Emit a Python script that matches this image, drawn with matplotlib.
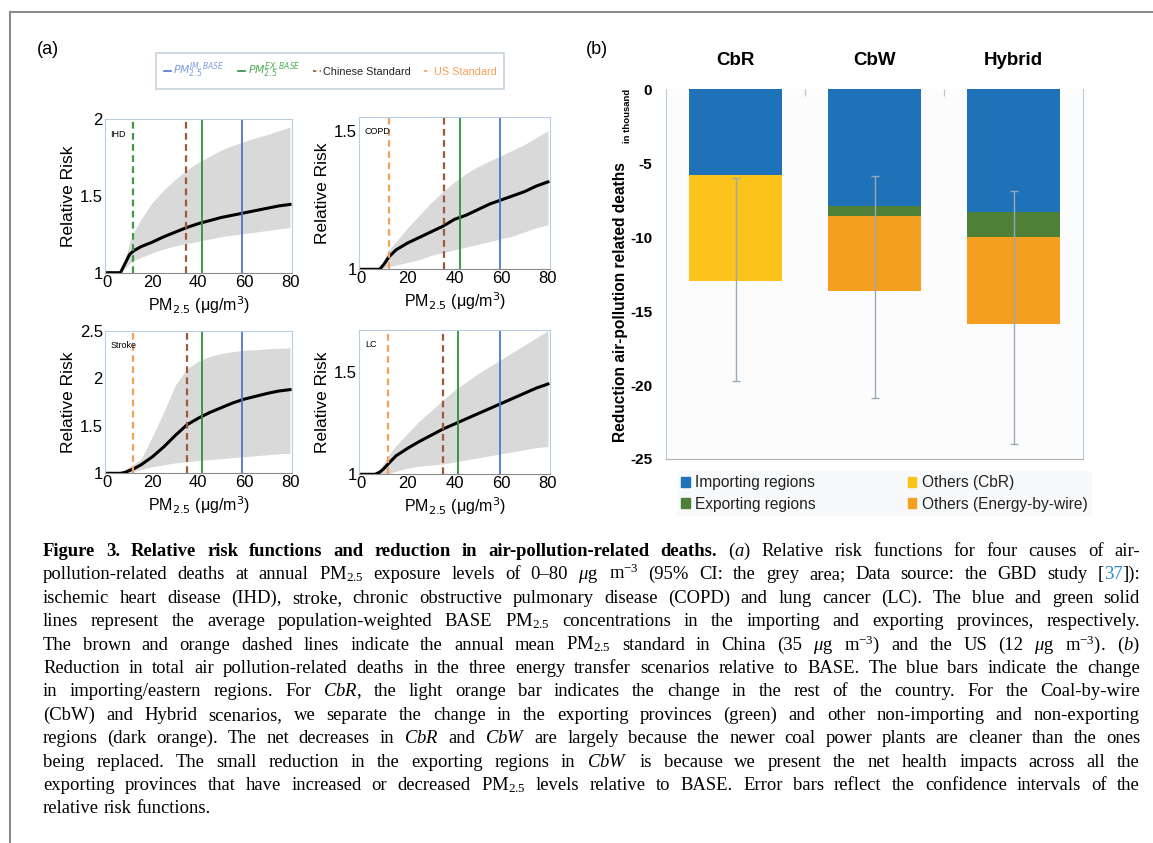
import matplotlib

matplotlib.use("Agg")
import matplotlib.pyplot as plt  # noqa: E402
from matplotlib.font_manager import FontProperties  # noqa: E402
from matplotlib.lines import Line2D  # noqa: E402
from matplotlib.patches import Patch  # noqa: E402

plt.rcParams["font.family"] = "Liberation Sans"
plt.rcParams["axes.unicode_minus"] = False
plt.rcParams["mathtext.fontset"] = "custom"
plt.rcParams["mathtext.rm"] = "Liberation Serif"
plt.rcParams["mathtext.it"] = "Liberation Serif:italic"
plt.rcParams["mathtext.bf"] = "Liberation Serif:bold"

# ---- panel (a): relative risk curves -------------------------------------
pm = [0, 6, 8, 10, 12, 15, 20, 25, 30, 35, 40, 45, 50, 55, 60, 65, 70, 75, 80]

ihd_mid = [1, 1, 1.06, 1.12, 1.145, 1.17, 1.20, 1.235, 1.265, 1.295, 1.32,
           1.34, 1.36, 1.375, 1.39, 1.405, 1.42, 1.435, 1.445]
ihd_up = [1, 1, 1.08, 1.20, 1.27, 1.35, 1.46, 1.54, 1.61, 1.67, 1.72,
          1.76, 1.80, 1.83, 1.855, 1.88, 1.90, 1.925, 1.95]
ihd_lo = [1, 1, 1.03, 1.06, 1.08, 1.10, 1.13, 1.155, 1.175, 1.19, 1.205,
          1.22, 1.235, 1.245, 1.255, 1.265, 1.275, 1.285, 1.295]

copd_mid = [1, 1, 1.0, 1.02, 1.045, 1.07, 1.095, 1.115, 1.135, 1.155, 1.18,
            1.195, 1.215, 1.235, 1.25, 1.265, 1.28, 1.30, 1.315]
copd_up = [1, 1, 1.0, 1.04, 1.07, 1.10, 1.15, 1.195, 1.24, 1.28, 1.315,
           1.345, 1.37, 1.39, 1.41, 1.43, 1.45, 1.475, 1.50]
copd_lo = [1, 1, 1.0, 1.005, 1.01, 1.015, 1.025, 1.035, 1.05, 1.06, 1.07,
           1.08, 1.09, 1.10, 1.11, 1.12, 1.135, 1.15, 1.16]

stroke_mid = [1, 1, 1.01, 1.03, 1.05, 1.09, 1.175, 1.28, 1.40, 1.51, 1.58,
              1.64, 1.69, 1.74, 1.78, 1.81, 1.84, 1.865, 1.88]
stroke_up = [1, 1, 1.04, 1.07, 1.10, 1.15, 1.39, 1.65, 1.93, 2.10, 2.18,
             2.23, 2.26, 2.28, 2.295, 2.30, 2.31, 2.315, 2.32]
stroke_lo = [1, 1, 1.0, 1.01, 1.02, 1.04, 1.07, 1.09, 1.11, 1.12, 1.135,
             1.145, 1.155, 1.165, 1.175, 1.185, 1.195, 1.205, 1.21]

lc_mid = [1, 1, 1.01, 1.03, 1.055, 1.09, 1.127, 1.16, 1.19, 1.22, 1.245,
          1.27, 1.295, 1.32, 1.345, 1.37, 1.395, 1.42, 1.44]
lc_up = [1, 1, 1.02, 1.06, 1.095, 1.14, 1.20, 1.26, 1.31, 1.36, 1.41,
         1.45, 1.49, 1.525, 1.56, 1.595, 1.63, 1.665, 1.70]
lc_lo = [1, 1, 1.0, 1.0, 1.005, 1.015, 1.03, 1.04, 1.045, 1.05, 1.06,
         1.07, 1.08, 1.09, 1.10, 1.11, 1.12, 1.13, 1.135]

diseases = ["IHD", "COPD", "Stroke", "LC"]
mids = [ihd_mid, copd_mid, stroke_mid, lc_mid]
ups = [ihd_up, copd_up, stroke_up, lc_up]
los = [ihd_lo, copd_lo, stroke_lo, lc_lo]
ylims = [(1, 2), (1, 1.55), (1, 2.5), (1, 1.703)]
yticks = [[1, 1.5, 2], [1, 1.5], [1, 1.5, 2, 2.5], [1, 1.5]]
ytick_labels = [["1", "1.5", "2"], ["1", "1.5"], ["1", "1.5", "2", "2.5"], ["1", "1.5"]]

us_std = [11.3, 12.1, 11.3, 11.4]
cn_std = [34.6, 35.4, 34.9, 35.3]
ex_base = [41.5, 42.4, 41.5, 41.7]
im_base = [58.9, 59.6, 58.9, 59.6]

# ---- panel (b): reduction in deaths (thousand) ---------------------------
scenarios = ["CbR", "CbW", "Hybrid"]
importing = [-5.8, -7.9, -8.3]
exporting = [0.0, -0.65, -1.7]
others_cbr = [-7.15, 0.0, 0.0]
others_ebw = [0.0, -5.1, -5.9]
ci_low = [-19.7, -20.85, -24.0]
ci_high = [-6.0, -5.85, -6.9]

caption_lines = [
    "Figure 3. Relative risk functions and reduction in air-pollution-related deaths. "
    "($\\mathit{a}$) Relative risk functions for four causes of air-",
    "pollution-related deaths at annual PM$_{2.5}$ exposure levels of 0–80 $\\mu$g m$^{-3}$ "
    "(95% CI: the grey area; Data source: the GBD study [|37|]):",
    "ischemic heart disease (IHD), stroke, chronic obstructive pulmonary disease (COPD) "
    "and lung cancer (LC). The blue and green solid",
    "lines represent the average population-weighted BASE PM$_{2.5}$ concentrations in the "
    "importing and exporting provinces, respectively.",
    "The brown and orange dashed lines indicate the annual mean PM$_{2.5}$ standard in China "
    "(35 $\\mu$g m$^{-3}$) and the US (12 $\\mu$g m$^{-3}$). ($\\mathit{b}$)",
    "Reduction in total air pollution-related deaths in the three energy transfer scenarios "
    "relative to BASE. The blue bars indicate the change",
    "in importing/eastern regions. For $\\mathit{CbR},$ the light orange bar indicates the "
    "change in the rest of the country. For the Coal-by-wire",
    "(CbW) and Hybrid scenarios, we separate the change in the exporting provinces (green) "
    "and other non-importing and non-exporting",
    "regions (dark orange). The net decreases in $\\mathit{CbR}$ and $\\mathit{CbW}$ are largely "
    "because the newer coal power plants are cleaner than the ones",
    "being replaced. The small reduction in the exporting regions in $\\mathit{CbW}$ is because "
    "we present the net health impacts across all the",
    "exporting provinces that have increased or decreased PM$_{2.5}$ levels relative to BASE. "
    "Error bars reflect the confidence intervals of the",
    "relative risk functions.",
]

W, H = 1153, 843
fig = plt.figure(figsize=(W / 100, H / 100), dpi=100)


def fx(px):
    return px / W


def fy(py):
    return 1 - py / H


# frame around the figure
fig.add_artist(Line2D([fx(10), 1], [fy(12), fy(12)], color="#8c8c8c", lw=1.5))
fig.add_artist(Line2D([fx(10), fx(10)], [fy(12), 0], color="#8c8c8c", lw=1.5))

# axes boxes in pixels: (left, top, right, bottom)
boxes = [(104.9, 119.3, 292.3, 272.7), (359.1, 116.7, 550.3, 269.3),
         (104.9, 330.7, 292.3, 473.3), (359.1, 330.0, 550.3, 474.3)]

C_BLUE = "#4d74cc"
C_GREEN = "#2f8f3e"
C_BROWN = "#a0583a"
C_ORANGE = "#f0a35a"
EDGE = "#b9cde0"

for i, name in enumerate(diseases):
    l, t, r, b = boxes[i]
    ax = fig.add_axes([fx(l), fy(b), fx(r - l), (b - t) / H])
    ax.fill_between(pm, los[i], ups[i], color="#d9d9d9", lw=0)
    ax.plot(pm, mids[i], color="black", lw=2.2)
    us_col = "#3f9a45" if i == 0 else C_ORANGE
    ax.axvline(us_std[i], color=us_col, lw=1.6, ls=(0, (3, 2)))
    ax.axvline(cn_std[i], color=C_BROWN, lw=1.6, ls=(0, (3, 2)))
    ax.axvline(ex_base[i], color=C_GREEN, lw=1.3)
    ax.axvline(im_base[i], color=C_BLUE, lw=1.3)
    ax.set_xlim(-0.8, 81)
    ax.set_ylim(*ylims[i])
    ax.set_xticks([0, 20, 40, 60, 80])
    ax.set_yticks(yticks[i], ytick_labels[i])
    ax.tick_params(length=0, pad=1.5, labelsize=12)
    for s in ["left", "top", "right"]:
        ax.spines[s].set_color(EDGE)
    ax.spines["bottom"].set_color("#8a8a8a")
    ax.text(0.03, 0.93, name, transform=ax.transAxes, fontsize=6.5, va="top")
    ax.set_ylabel("Relative Risk", fontsize=12.5, labelpad=3)
    ax.set_xlabel("PM$_{2.5}$ (μg/m$^3$)", fontsize=11.5, labelpad=3,
                  math_fontfamily="dejavusans")

fig.text(fx(48), fy(50), "(a)", fontsize=13, ha="center", va="center")
fig.text(fx(597), fy(50), "(b)", fontsize=13, ha="center", va="center")

# legend of panel (a)
a_handles = [Line2D([], [], color=C_BLUE, lw=1.2),
             Line2D([], [], color=C_GREEN, lw=1.2),
             Line2D([], [], color=C_BROWN, lw=1.2, ls=(0, (2, 2))),
             Line2D([], [], color=C_ORANGE, lw=1.2, ls=(0, (2, 2)))]
a_labels = ["$PM^{IM,BASE}_{2.5}$", "$PM^{EX,BASE}_{2.5}$", "Chinese Standard", "US Standard"]
a_colors = ["#7f9be0", "#4caf50", "#222222", "#f5a05a"]
leg_a = fig.legend(a_handles, a_labels, loc="center", bbox_to_anchor=(fx(330), fy(71)),
                   ncol=4, handlelength=0.7, handletextpad=0.2, columnspacing=1.2,
                   fancybox=False, edgecolor="#b8c8d8", borderpad=0.7,
                   prop=FontProperties(family="Liberation Sans", size=7.8,
                                       math_fontfamily="dejavusans"))
leg_a.get_frame().set_linewidth(1.2)
for txt, c in zip(leg_a.get_texts(), a_colors):
    txt.set_color(c)

# ---- panel (b) ------------------------------------------------------------
C_IMP = "#2072b8"
C_EXP = "#4e8038"
C_OCBR = "#fcc31a"
C_OEBW = "#f59f21"

axb = fig.add_axes([fx(666), fy(459), fx(1083 - 666), (459 - 89.3) / H])
axb.set_facecolor("#fcfcfd")
xs = range(len(scenarios))
bw = 0.67
bottom = [0.0] * len(scenarios)
for vals, col in [(importing, C_IMP), (exporting, C_EXP),
                  (others_cbr, C_OCBR), (others_ebw, C_OEBW)]:
    axb.bar(xs, vals, bw, bottom=bottom, color=col, lw=0)
    bottom = [bo + v for bo, v in zip(bottom, vals)]
totals = bottom
yerr = [[tot - lo for tot, lo in zip(totals, ci_low)],
        [hi - tot for tot, hi in zip(totals, ci_high)]]
axb.errorbar(xs, totals, yerr=yerr, fmt="none", ecolor="#9aa9b6", elinewidth=1,
             capsize=3, capthick=1)
axb.set_xlim(-0.5, 2.5)
axb.set_ylim(-25, 0)
axb.set_yticks([0, -5, -10, -15, -20, -25])
axb.tick_params(axis="y", length=0, pad=10, labelsize=11)
for lab in axb.get_yticklabels():
    lab.set_fontweight("bold")
axb.xaxis.tick_top()
axb.set_xticks([0.5, 1.5])
axb.tick_params(axis="x", direction="in", length=5, color="#b5c2cf", labeltop=False)
axb.spines["top"].set_visible(False)
axb.spines["left"].set_color(EDGE)
axb.spines["right"].set_color(EDGE)
axb.spines["bottom"].set_color("#b0b0b0")
for i, s in enumerate(scenarios):
    axb.text(i, 1.079, s, transform=axb.get_xaxis_transform(), ha="center", va="center",
             fontsize=13.5, fontweight="bold")

fig.text(fx(620), fy(302), "Reduction air-pollution related deaths", rotation=90,
         ha="center", va="center", fontsize=11.2, fontweight="bold")
fig.text(fx(627), fy(116), "in thousand", rotation=90, ha="center", va="center",
         fontsize=6.8, fontweight="bold")

b_handles = [Patch(color=C_IMP), Patch(color=C_EXP), Patch(color=C_OCBR), Patch(color=C_OEBW)]
b_labels = ["Importing regions", "Exporting regions", "Others (CbR)", "Others (Energy-by-wire)"]
leg_b = fig.legend(b_handles, b_labels, loc="upper left", bbox_to_anchor=(fx(669), fy(463)),
                   ncol=2, fontsize=11.2, handlelength=0.55, handleheight=0.55,
                   handletextpad=0.35, columnspacing=5.9, labelspacing=0.4,
                   fancybox=False, facecolor="#f7f8fa", edgecolor="none", borderpad=0.3)
for txt in leg_b.get_texts():
    txt.set_color("#222222")

# ---- caption, justified line by line ------------------------------------
renderer = fig.canvas.get_renderer()
cap_left, cap_right = 43, 1140
cap_size = 13.4
y0, dy = 556, 23.4
for i, line in enumerate(caption_lines):
    words = line.split(" ")
    ybase = fy(y0 + i * dy)
    placed = []
    total = 0.0
    for j, w in enumerate(words):
        weight = "bold" if (i == 0 and j < 10) else "normal"
        arts = []
        for k, part in enumerate(w.split("|")):
            if not part:
                continue
            t = fig.text(0, ybase, part, fontsize=cap_size, family="Liberation Serif",
                         fontweight=weight, color="#2a8ad0" if k % 2 else "black",
                         va="baseline", ha="left", math_fontfamily="custom")
            wpx = t.get_window_extent(renderer).width
            arts.append((t, wpx))
            total += wpx
        placed.append(arts)
    if i == len(caption_lines) - 1:
        gap = cap_size * 100 / 72 * 0.25
    else:
        gap = (cap_right - cap_left - total) / (len(placed) - 1)
    x = cap_left
    for arts in placed:
        for t, wpx in arts:
            t.set_x(fx(x))
            x += wpx
        x += gap

fig.savefig("out.png", dpi=100)
